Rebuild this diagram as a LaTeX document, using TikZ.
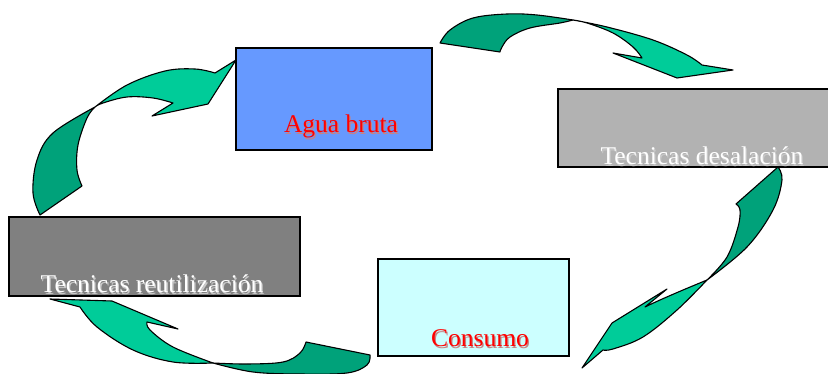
\documentclass[tikz,border=0pt]{standalone}
\usepackage{fontspec}
\setmainfont{Liberation Serif}
\usepackage{tikz}
\definecolor{azul}{HTML}{6699FF}
\definecolor{celeste}{HTML}{CCFFFF}
\definecolor{gris}{HTML}{B2B2B2}
\definecolor{grisosc}{HTML}{808080}
\definecolor{verde}{HTML}{00CC99}
\definecolor{verdeosc}{HTML}{00A27A}
\tikzset{
        caja/.style={draw=black,line width=1.1pt,rectangle,inner sep=0pt},
        cinta/.style={draw=black,line width=1.1pt,line join=round,fill=#1},
    }
\newcommand{\rotulo}[4]{%
  \node[anchor=base,text=#3!40!gray!70,xshift=1.3pt,yshift=-1.3pt] at (#2) {#4};
  \node[anchor=base,text=#3] (#1) at (#2) {#4};}

\begin{document}
\begin{tikzpicture}[
          x=1pt,y=-1pt,
          font=\fontsize{25.5}{30}\selectfont,
          ]
 \useasboundingbox (0,0) rectangle (828,374);
          \node[caja,fill=azul,minimum width=196pt,minimum height=102pt] (@agua) at (334,99) {};
          \node[caja,fill=gris,minimum width=284pt,minimum height=78pt] (@desal) at (700,128) {};
          \node[caja,fill=grisosc,minimum width=291pt,minimum height=79pt] (@reuti) at (154.5,256.5) {};
          \node[caja,fill=celeste,minimum width=191pt,minimum height=97pt] (@consu) at (473.5,307.5) {};
          \rotulo{@aguat}{341,133}{red}{Agua bruta}
          \rotulo{@desalt}{702,165}{white}{Tecnicas desalación}
          \rotulo{@reutit}{152,293}{white}{Tecnicas reutilización}
          \rotulo{@consut}{480,347}{red}{Consumo}
          % arriba
          \draw[cinta=verdeosc] plot[smooth,tension=.6] coordinates {(440,43) (450,30) (473,18) (507,14) (537,15) (573,20)}
              -- plot[smooth,tension=.6] coordinates {(573,20) (560,23) (530,28) (510,37) (502,47) (500,52)} -- cycle;
          \draw[cinta=verde] plot[smooth,tension=.6] coordinates {(573,20) (607,27) (653,40) (687,55) (702,65)}
              -- (733,70) -- (677,78) -- (613,53) -- (642,58)
              -- plot[smooth,tension=.6] coordinates {(642,58) (633,47) (613,33) (587,23) (573,20)} -- cycle;
          % derecha
          \draw[cinta=verdeosc] plot[smooth,tension=.6] coordinates {(778,167) (782,180) (773,210) (747,247) (707,280)}
              -- plot[smooth,tension=.6] coordinates {(707,280) (727,257) (738,227) (740,210) (736,204)} -- cycle;
          \draw[cinta=verde] plot[smooth,tension=.6] coordinates {(707,280) (683,290) (660,300) (645,307)}
              -- (667,289) -- (612,323) -- (582,368) -- (603,350)
              -- plot[smooth,tension=.6] coordinates {(603,350) (613,349) (643,337) (677,310) (707,280)} -- cycle;
          % abajo
          \draw[cinta=verdeosc] plot[smooth,tension=.6] coordinates {(306,342) (300,353) (283,362) (247,364) (213,363)}
              -- plot[smooth,tension=.6] coordinates {(213,363) (253,372) (300,374) (347,373) (367,365) (370,355)} -- cycle;
          \draw[cinta=verde] plot[smooth,tension=.6] coordinates {(213,363) (173,347) (150,330) (147,322)}
              -- (178,329) -- (112,301) -- (50,299) -- (80,307)
              -- plot[smooth,tension=.6] coordinates {(80,307) (97,327) (133,350) (173,362) (213,363)} -- cycle;
          % izquierda
          \draw[cinta=verdeosc] plot[smooth,tension=.6] coordinates {(40,215) (33,193) (37,160) (53,133) (95,107)}
              -- plot[smooth,tension=.6] coordinates {(95,107) (87,118) (78,145) (77,170) (82,186)} -- cycle;
          \draw[cinta=verde] plot[smooth,tension=.6] coordinates {(95,107) (127,85) (165,71) (195,69) (215,73)}
              -- (236,60) -- (208,104) -- (152,116) -- (173,103)
              -- plot[smooth,tension=.6] coordinates {(173,103) (153,98) (127,97) (103,103) (95,107)} -- cycle;
        \end{tikzpicture}
\end{document}
